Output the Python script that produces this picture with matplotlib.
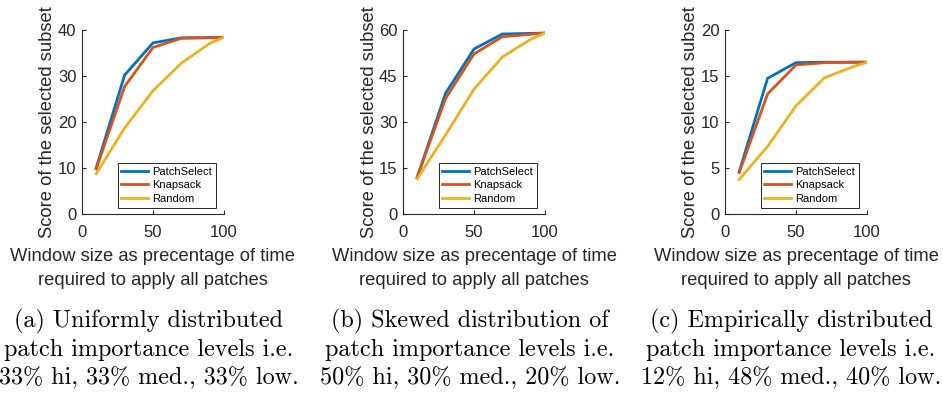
import matplotlib
matplotlib.use("Agg")
import matplotlib.pyplot as plt

x_vals = [10, 30, 50, 70, 90, 100]

a_patchselect = [10.0, 30.2, 37.2, 38.3, 38.35, 38.4]
a_knapsack = [9.8, 27.7, 36.2, 38.2, 38.3, 38.4]
a_random = [8.75, 18.7, 26.8, 32.8, 37.1, 38.4]

b_patchselect = [12.0, 39.4, 53.8, 58.7, 58.9, 59.0]
b_knapsack = [12.0, 37.7, 52.2, 57.8, 58.6, 59.0]
b_random = [11.5, 25.8, 40.7, 51.2, 57.0, 59.0]

c_patchselect = [4.6, 14.75, 16.45, 16.5, 16.5, 16.5]
c_knapsack = [4.5, 13.05, 16.2, 16.45, 16.5, 16.5]
c_random = [3.75, 7.35, 11.75, 14.8, 16.0, 16.5]

series_names = ["PatchSelect", "Knapsack", "Random"]
colors = ["#0072BD", "#D95319", "#EDB120"]

panels = [
    ([a_patchselect, a_knapsack, a_random], 40, [0, 10, 20, 30, 40]),
    ([b_patchselect, b_knapsack, b_random], 60, [0, 15, 30, 45, 60]),
    ([c_patchselect, c_knapsack, c_random], 20, [0, 5, 10, 15, 20]),
]
x_ticks = [0, 50, 100]

captions = [
    "(a) Uniformly distributed\npatch importance levels i.e.\n33% hi, 33% med., 33% low.",
    "(b) Skewed distribution of\npatch importance levels i.e.\n50% hi, 30% med., 20% low.",
    "(c) Empirically distributed\npatch importance levels i.e.\n12% hi, 48% med., 40% low.",
]
caption_centers = [149, 470, 791]

plt.rcParams['font.family'] = ['Liberation Sans', 'DejaVu Sans']

W, H = 943, 396
fig = plt.figure(figsize=(W / 100, H / 100), dpi=100)

ax_lefts = [82, 403, 725]
ax_top, ax_bottom = 30, 214
ax_w = 142
gray = "#262626"

for i, (series, ymax, yticks) in enumerate(panels):
    ax = fig.add_axes([ax_lefts[i] / W, 1 - ax_bottom / H, ax_w / W, (ax_bottom - ax_top) / H])
    for s, name, c in zip(series, series_names, colors):
        ax.plot(x_vals, s, color=c, lw=2.0, label=name, solid_joinstyle='miter')
    ax.set_xlim(0, 100)
    ax.set_ylim(0, ymax)
    ax.set_xticks(x_ticks)
    ax.set_yticks(yticks)
    for sp in ["top", "right"]:
        ax.spines[sp].set_visible(False)
    for sp in ["left", "bottom"]:
        ax.spines[sp].set_color(gray)
        ax.spines[sp].set_linewidth(0.8)
    ax.tick_params(direction='in', length=3, width=0.8, colors=gray, labelsize=12)
    ax.tick_params(axis='x', pad=8)
    ax.tick_params(axis='y', pad=4)
    ax.set_ylabel("Score of the selected subset", fontsize=13.2, color=gray, labelpad=1)
    ax.set_xlabel("Window size as precentage of time\nrequired to apply all patches",
                  fontsize=13.2, color=gray, labelpad=6, linespacing=1.5)
    leg = ax.legend(loc='lower right', bbox_to_anchor=(0.945, 0.035), fontsize=8,
                    frameon=True, fancybox=False, edgecolor=gray, framealpha=1,
                    handlelength=2.4, labelspacing=0.3, borderpad=0.35, handletextpad=0.4,
                    borderaxespad=0)
    leg.get_frame().set_linewidth(0.7)
    fig.text(caption_centers[i] / W, 1 - 309 / H, captions[i], ha='center', va='top',
             fontsize=17.4, family='cmr10', linespacing=1.3)

fig.savefig("out.png", dpi=100)
